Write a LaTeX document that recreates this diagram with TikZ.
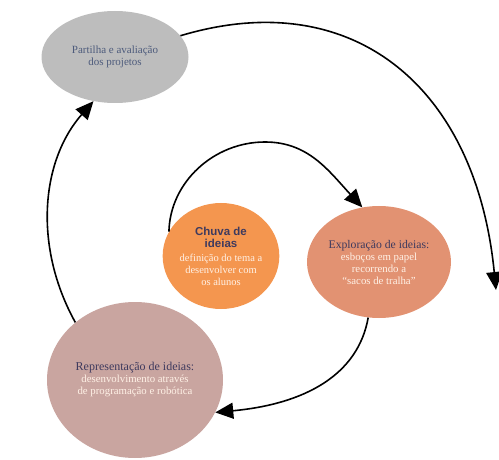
\documentclass[tikz,border=0pt]{standalone}
\usepackage{fontspec}
\setmainfont{Liberation Serif}
\newfontfamily\headsans{Liberation Sans}
\usetikzlibrary{shapes.geometric,arrows.meta}
\definecolor{greyc}{HTML}{BDBDBD}
\definecolor{greytext}{HTML}{4D5B7C}
\definecolor{orangec}{HTML}{F4964F}
\definecolor{salmonc}{HTML}{E29272}
\definecolor{mauvec}{HTML}{C9A5A0}
\definecolor{titlec}{HTML}{3E3A5E}
\definecolor{lightc}{HTML}{FFF1E6}
\begin{document}
\begin{tikzpicture}[x=1pt,y=-1pt,
  blob/.style={ellipse, inner sep=0pt, align=center, draw=none},
  conn/.style={line width=1.6pt, -{Triangle[length=18pt,width=16pt]}}]
\useasboundingbox (0,0) rectangle (499,460);
\node[blob, fill=greyc, minimum width=147pt, minimum height=92pt] (share) at (115,57)
  {\fontsize{11}{15}\selectfont\color{greytext}Partilha e avaliação\\\fontsize{11}{15}\selectfont\color{greytext}dos projetos};
\node[blob, fill=orangec, minimum width=108pt, minimum height=106pt] (rain) at (221,256)
  {\fontsize{11.5}{15}\headsans\bfseries\color{titlec}Chuva de\\
   \fontsize{11.5}{15}\headsans\bfseries\color{titlec}ideias\\[2pt]
   \fontsize{10.5}{13.5}\selectfont\color{lightc}definição do tema a\\
   \fontsize{10.5}{13.5}\selectfont\color{lightc}desenvolver com\\
   \fontsize{10.5}{13.5}\selectfont\color{lightc}os alunos};
\node[blob, fill=salmonc, minimum width=144pt, minimum height=112pt] (explore) at (379,262)
  {\fontsize{11.7}{14}\selectfont\color{titlec}Exploração de ideias:\\
   \fontsize{10.8}{14}\selectfont\color{lightc}esboços em papel\\
   \fontsize{10.8}{14}\selectfont\color{lightc}recorrendo a\\
   \fontsize{10.8}{14}\selectfont\color{lightc}“sacos de tralha”};
\node[blob, fill=mauvec, minimum width=176pt, minimum height=156pt] (repr) at (135,380)
  {\fontsize{12}{14.5}\selectfont\color{titlec}Representação de ideias:\\
   \fontsize{10.8}{14.5}\selectfont\color{lightc}desenvolvimento através\\
   \fontsize{10.8}{14.5}\selectfont\color{lightc}de programação e robótica};
\coordinate (bigend) at (496,290);
\coordinate (looptop) at (265,142);
\draw[conn] (share.18) .. controls (353,-16) and (476,87) .. (bigend);
\draw[conn] (repr.136) .. controls (34,248) and (40,162) .. (share.244);
\draw[conn] (rain.155) .. controls (170,182) and (214,142) .. (looptop)
  .. controls (308,142) and (328,170) .. (explore.107);
\draw[conn] (explore.259) .. controls (358,375) and (305,404) .. (repr.338);
\end{tikzpicture}
\end{document}
